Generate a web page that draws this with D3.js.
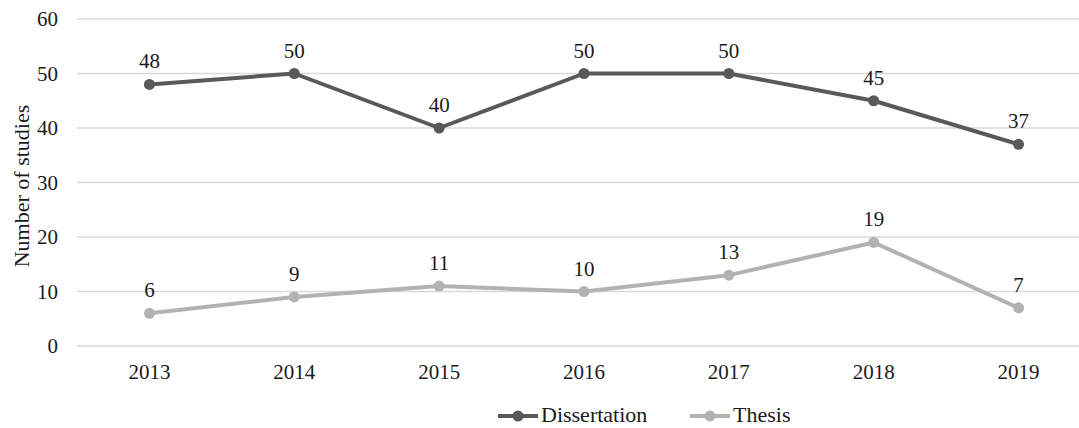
<!DOCTYPE html>
<html>
<head>
<meta charset="utf-8">
<script src="https://cdn.jsdelivr.net/npm/d3@7"></script>
<style>
  html, body { margin: 0; padding: 0; background: #fff; }
  svg { display: block; font-family: "Liberation Serif", "Times New Roman", serif; }
</style>
</head>
<body>
<svg id="chart" width="1079" height="428"></svg>
<script>
const years = ["2013", "2014", "2015", "2016", "2017", "2018", "2019"];
const dissertation = [48, 50, 40, 50, 50, 45, 37];
const thesis = [6, 9, 11, 10, 13, 19, 7];
const yTicks = [0, 10, 20, 30, 40, 50, 60];
const seriesNames = ["Dissertation", "Thesis"];
const seriesColors = ["#595959", "#b2b2b2"];

const svg = d3.select("#chart");
const x = d3.scaleBand().domain(years).range([77, 1091]);
const y = d3.scaleLinear().domain([0, 60]).range([346, 19]);
const cx = d => x(d) + x.bandwidth() / 2;
const textColor = "#1a1a1a";

// horizontal gridlines
svg.append("g").selectAll("line").data(yTicks).join("line")
  .attr("x1", 77).attr("x2", 1091)
  .attr("y1", d => y(d)).attr("y2", d => y(d))
  .attr("stroke", "#d9d9d9").attr("stroke-width", 1.5);

// y tick labels
svg.append("g").selectAll("text").data(yTicks).join("text")
  .attr("x", 58).attr("y", d => y(d)).attr("dy", "0.35em")
  .attr("text-anchor", "end").attr("font-size", 21).attr("fill", textColor)
  .text(d => d);

// x tick labels
svg.append("g").selectAll("text").data(years).join("text")
  .attr("x", d => cx(d)).attr("y", 379)
  .attr("text-anchor", "middle").attr("font-size", 21).attr("fill", textColor)
  .text(d => d);

// y axis title
svg.append("text")
  .attr("transform", "translate(29,186) rotate(-90)")
  .attr("text-anchor", "middle").attr("font-size", 22).attr("fill", textColor)
  .text("Number of studies");

const line = d3.line().x((d, i) => cx(years[i])).y(d => y(d));

[dissertation, thesis].forEach((vals, s) => {
  const g = svg.append("g");
  g.append("path").datum(vals)
    .attr("d", line).attr("fill", "none")
    .attr("stroke", seriesColors[s]).attr("stroke-width", 4)
    .attr("stroke-linejoin", "round");
  g.selectAll("circle").data(vals).join("circle")
    .attr("cx", (d, i) => cx(years[i])).attr("cy", d => y(d)).attr("r", 5.5)
    .attr("fill", seriesColors[s]);
  g.selectAll("text").data(vals).join("text")
    .attr("x", (d, i) => cx(years[i])).attr("y", d => y(d) - 16)
    .attr("text-anchor", "middle").attr("font-size", 21).attr("fill", textColor)
    .text(d => d);
});

// legend
const legendX = [498, 690];
seriesNames.forEach((name, s) => {
  const g = svg.append("g").attr("transform", `translate(${legendX[s]},416)`);
  g.append("line").attr("x1", 0).attr("x2", 40).attr("y1", 0).attr("y2", 0)
    .attr("stroke", seriesColors[s]).attr("stroke-width", 4);
  g.append("circle").attr("cx", 20).attr("cy", 0).attr("r", 5.5).attr("fill", seriesColors[s]);
  g.append("text").attr("x", 43).attr("y", 6)
    .attr("font-size", 22).attr("fill", textColor).text(name);
});
</script>
</body>
</html>
